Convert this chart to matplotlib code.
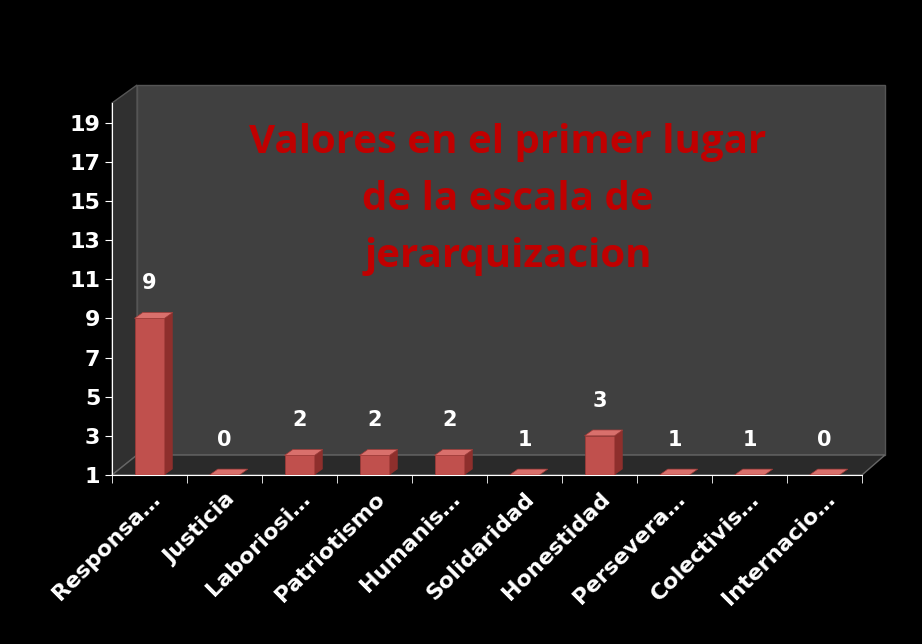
import matplotlib
matplotlib.use("Agg")
import matplotlib.pyplot as plt
from matplotlib.patches import Polygon

categories = ["Responsa…", "Justicia", "Laboriosi…", "Patriotismo", "Humanis…",
              "Solidaridad", "Honestidad", "Persevera…", "Colectivis…", "Internacio…"]
values = [9, 0, 2, 2, 2, 1, 3, 1, 1, 0]
yticks = [1, 3, 5, 7, 9, 11, 13, 15, 17, 19]
title = "Valores en el primer lugar\nde la escala de\njerarquizacion"

W, H = 922, 644
fig = plt.figure(figsize=(W/100, H/100), dpi=100, facecolor="black")
def fx(p): return p / W
def fy(p): return 1 - p / H

fig.patches.append(Polygon([(fx(137), fy(85)), (fx(885), fy(85)), (fx(885), fy(455)), (fx(137), fy(455))],
                           closed=True, transform=fig.transFigure, facecolor="#404040", edgecolor="#555555", zorder=-2))
fig.patches.append(Polygon([(fx(112), fy(103)), (fx(137), fy(85)), (fx(137), fy(455)), (fx(112), fy(475))],
                           closed=True, transform=fig.transFigure, facecolor="#303030", edgecolor="#555555", zorder=-2))
fig.patches.append(Polygon([(fx(112), fy(475)), (fx(137), fy(455)), (fx(885), fy(455)), (fx(862), fy(475))],
                           closed=True, transform=fig.transFigure, facecolor="#2a2a2a", edgecolor="#666666", zorder=-2))

fig.text(fx(508), fy(200), title, color="#C00000", fontsize=29, fontweight="bold",
         ha="center", va="center", linespacing=1.6, family="Open Sans", zorder=-1)

ax = fig.add_axes([fx(112), 1 - 475/H, 750/W, 372/H])
ax.set_zorder(2)
ax.set_facecolor("none")
ax.set_xlim(-0.5, 9.5)
ax.set_ylim(1, 20)

bw, dx, dy = 0.4, 0.11, 0.3
for i, v in enumerate(values):
    top = max(v, 1)
    x0, x1 = i - bw/2, i + bw/2
    if v > 1:
        ax.add_patch(Polygon([(x0, 1), (x1, 1), (x1, top), (x0, top)], facecolor="#C0504D", edgecolor="#A03a37", lw=0.5, zorder=3))
        ax.add_patch(Polygon([(x1, 1), (x1+dx, 1+dy), (x1+dx, top+dy), (x1, top)], facecolor="#8E2F2C", zorder=3))
    ax.add_patch(Polygon([(x0, top), (x1, top), (x1+dx, top+dy), (x0+dx, top+dy)], facecolor="#D9706C", edgecolor="#A03a37", lw=0.5, zorder=4))
    ax.text(i, top + 1.8, str(v), color="white", fontsize=15, fontweight="bold", ha="center", va="center", zorder=5)

ax.set_yticks(yticks)
ax.set_xticks(range(len(categories)))
ax.set_xticklabels(categories, rotation=45, ha="right", rotation_mode="anchor")
ax.tick_params(colors="white", labelsize=16, length=5)
for lab in ax.get_xticklabels() + ax.get_yticklabels():
    lab.set_fontweight("bold"); lab.set_color("white")
ax.set_xticks([k - 0.5 for k in range(len(categories) + 1)], minor=True)
ax.tick_params(axis="x", which="major", length=0, pad=10)
ax.tick_params(axis="x", which="minor", length=6, color="white")
for s in ["top", "right"]:
    ax.spines[s].set_visible(False)
ax.spines["left"].set_color("white")
ax.spines["bottom"].set_color("white")

fig.savefig("out.png", dpi=100, facecolor="black")
